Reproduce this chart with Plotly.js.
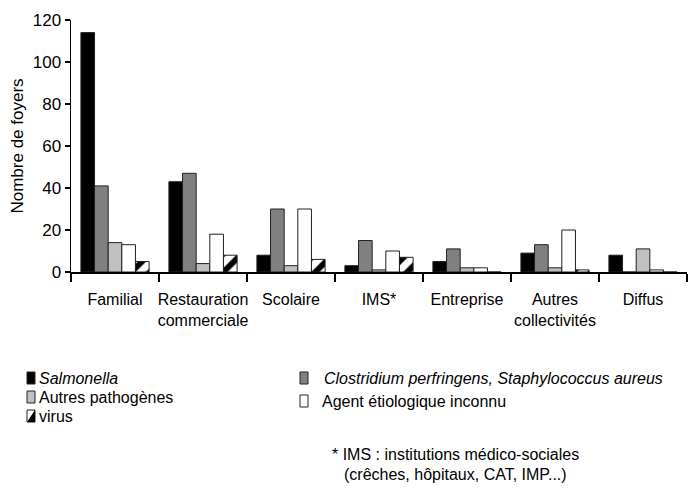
<!DOCTYPE html>
<html>
<head>
<meta charset="utf-8">
<script src="https://cdn.plot.ly/plotly-3.0.1.min.js"></script>
<style>
html,body{margin:0;padding:0;background:#fff;}
#chart{width:695px;height:491px;}
</style>
</head>
<body>
<div id="chart"></div>
<script>
// ---- Data ----
const categories = ["Familial", "Restauration<br>commerciale", "Scolaire", "IMS*", "Entreprise", "Autres<br>collectivités", "Diffus"];
const salmonella = [114, 43, 8, 3, 5, 9, 8];
const clostridium = [41, 47, 30, 15, 11, 13, 0];
const autresPathogenes = [14, 4, 3, 1, 2, 2, 11];
const agentInconnu = [13, 18, 30, 10, 2, 20, 1];
const virus = [5, 8, 6, 7, 0, 1, 0];
const yTicks = [0, 20, 40, 60, 80, 100, 120];

const FONT = '"Liberation Sans", Arial, sans-serif';
const W = 695, H = 491;
const L = 71, R = 8, T = 20, B = 219;
const pw = W - L - R, ph = H - T - B;
const px = x => (x - L) / pw;
const py = y => (H - B - y) / ph;

const outline = {color: '#222', width: 1};
function bar(name, y, color, extra) {
  const m = Object.assign({color: color, line: outline}, extra || {});
  return {type: 'bar', name: name, x: categories, y: y, marker: m, showlegend: false, hoverinfo: 'y'};
}
const traces = [
  bar('Salmonella', salmonella, '#000000'),
  bar('Clostridium perfringens, Staphylococcus aureus', clostridium, '#808080'),
  bar('Autres pathogènes', autresPathogenes, '#c0c0c0'),
  bar('Agent étiologique inconnu', agentInconnu, '#ffffff'),
  bar('virus', virus, '#ffffff', {pattern: {shape: '/', fgcolor: '#000', bgcolor: '#fff', size: 13, solidity: 0.45}})
];

// ---- custom legend ----
const shapes = [];
const annotations = [];
function legendItem(sx, sy, text, fill, italic, isVirus, gap) {
  shapes.push({type: 'rect', xref: 'paper', yref: 'paper', x0: px(sx), x1: px(sx + 8), y0: py(sy + 6), y1: py(sy - 6),
    fillcolor: fill, line: {color: '#222', width: 1}});
  if (isVirus) {
    shapes.push({type: 'path', xref: 'paper', yref: 'paper',
      path: `M ${px(sx + 8)} ${py(sy - 6)} L ${px(sx + 8)} ${py(sy + 6)} L ${px(sx)} ${py(sy + 6)} Z`,
      fillcolor: '#000', line: {width: 0}});
  }
  annotations.push({xref: 'paper', yref: 'paper', x: px(sx + gap), y: py(sy), xanchor: 'left', yanchor: 'middle',
    text: italic ? '<i>' + text + '</i>' : text, showarrow: false, font: {family: FONT, size: 16, color: '#000'}});
}
legendItem(27, 378, 'Salmonella', '#000000', true, false, 10);
legendItem(27, 397, 'Autres pathogènes', '#c0c0c0', false, false, 10);
legendItem(27, 416, 'virus', '#ffffff', false, true, 10);
legendItem(300, 378, 'Clostridium perfringens, Staphylococcus aureus', '#808080', true, false, 22);
legendItem(300, 401, 'Agent étiologique inconnu', '#ffffff', false, false, 20);
annotations.push({xref: 'paper', yref: 'paper', x: px(330), y: py(454), xanchor: 'left', yanchor: 'middle',
  text: '* IMS : institutions médico-sociales', showarrow: false, font: {family: FONT, size: 16, color: '#000'}});
annotations.push({xref: 'paper', yref: 'paper', x: px(342), y: py(474), xanchor: 'left', yanchor: 'middle',
  text: '(crêches, hôpitaux, CAT, IMP...)', showarrow: false, font: {family: FONT, size: 16, color: '#000'}});

const layout = {
  width: W, height: H,
  margin: {l: L, r: R, t: T, b: B, pad: 0},
  paper_bgcolor: '#fff', plot_bgcolor: '#fff',
  font: {family: FONT, size: 16, color: '#000'},
  barmode: 'group', bargap: 0.225, bargroupgap: 0,
  showlegend: false,
  xaxis: {
    type: 'category', showline: true, linecolor: '#000', linewidth: 1.5,
    ticks: 'outside', ticklen: 8, tickcolor: '#000', tickwidth: 1.5, tickson: 'boundaries',
    ticklabelstandoff: 12,
    tickangle: 0, showgrid: false, zeroline: false, tickfont: {family: FONT, size: 16}, automargin: false
  },
  yaxis: {
    range: [0, 120], tickvals: yTicks, ticktext: yTicks.map(String),
    showline: true, linecolor: '#000', linewidth: 1.5,
    ticks: 'outside', ticklen: 5, tickcolor: '#000', tickwidth: 1.5,
    showgrid: false, zeroline: false, tickfont: {family: FONT, size: 17}, automargin: false,
    title: {text: 'Nombre de foyers', font: {family: FONT, size: 17}, standoff: 5}
  },
  shapes: shapes,
  annotations: annotations
};
Plotly.newPlot('chart', traces, layout, {displayModeBar: false, staticPlot: true});
</script>
</body>
</html>
